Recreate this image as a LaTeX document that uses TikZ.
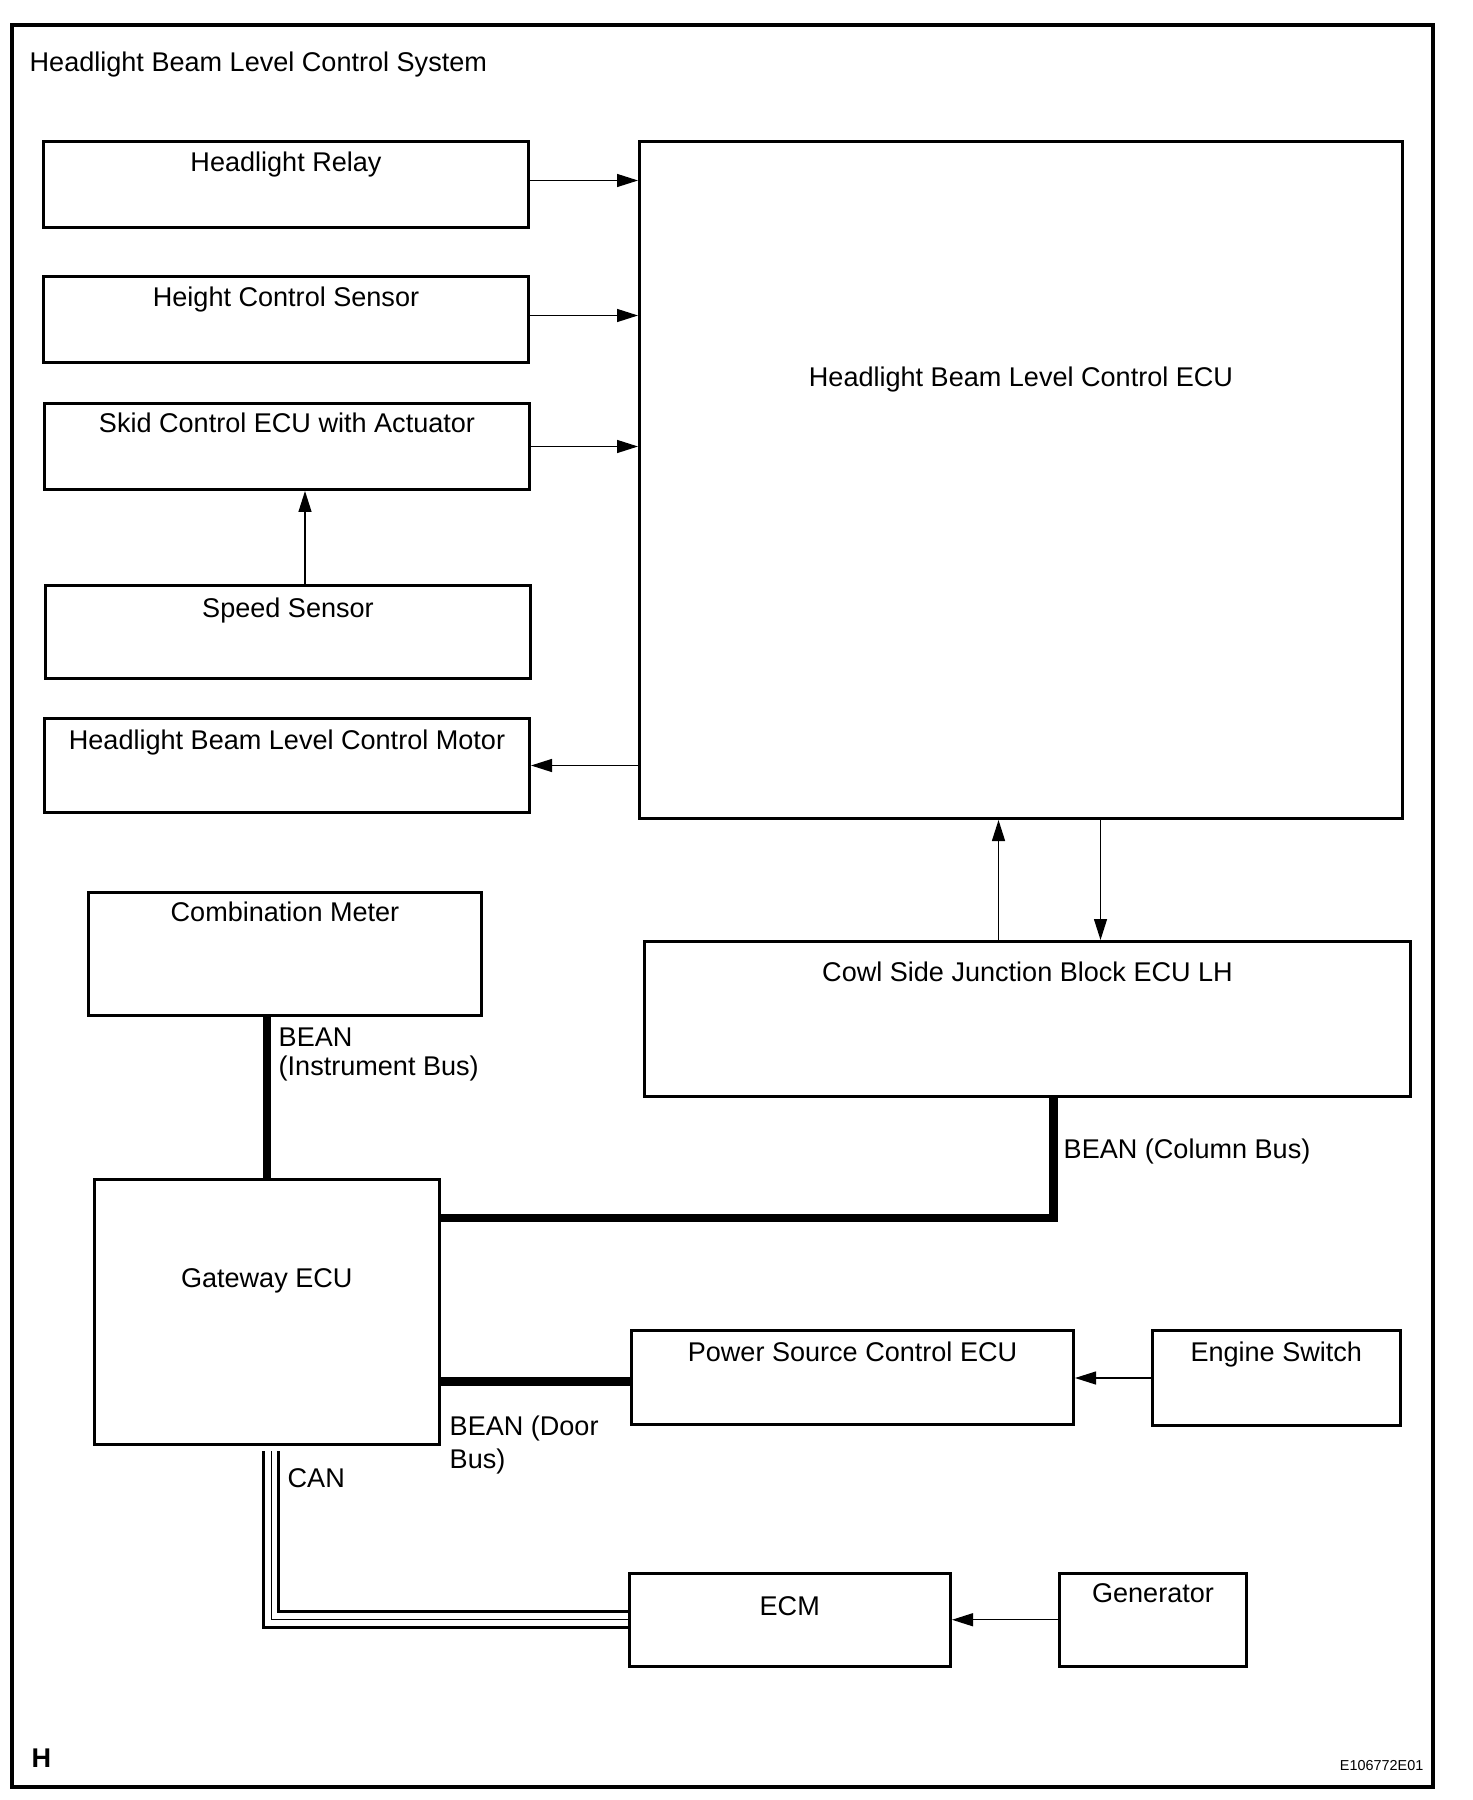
\documentclass[tikz,border=0pt]{standalone}
\usepackage{fontspec}
\setmainfont{Liberation Sans}
\usepackage{tikz}
\usetikzlibrary{arrows.meta}
\newcommand{\fsz}{\fontsize{7.7}{9.35}\selectfont}
\tikzset{%
  box/.style = {draw, line width=0.3mm, inner sep=0pt, anchor=north west,
        font=\fsz},
  sigarrow/.style = {-{Triangle[length=2.1mm,width=1.3mm]}, line width=0.13mm},
  busline/.style = {line width=0.85mm},
  canthick/.style = {line width=0.3mm},
  canthin/.style = {line width=0.13mm},
  lbl/.style = {inner sep=0pt, anchor=base west, align=left, font=\fsz}
}

\begin{document}
\begin{tikzpicture}[x=1mm,y=-1mm]
                \useasboundingbox (0,0) rectangle (147.2,180);
                \draw[line width=0.33mm] (1.2,2.5) rectangle (143.3,178.7);
                \node[lbl] (title) at (2.9,7.2) {Headlight Beam Level Control System};
                % inputs and motor, left column
                \node[box, minimum width=48.5mm, text height=3mm, text depth=5.6mm] (relay) at (4.2,14.0) {Headlight Relay};
                \node[box, minimum width=48.5mm, text height=3mm, text depth=5.6mm] (hcs) at (4.2,27.5) {Height Control Sensor};
                \node[box, minimum width=48.5mm, text height=2.95mm, text depth=5.65mm] (skid) at (4.3,40.2) {Skid Control ECU with Actuator};
                \node[box, minimum width=48.5mm, text height=3.2mm, text depth=6.1mm] (speed) at (4.4,58.4) {Speed Sensor};
                \node[box, minimum width=48.5mm, text height=3.1mm, text depth=6.3mm] (motor) at (4.3,71.7) {Headlight Beam Level Control Motor};
                \node[box, minimum width=76.3mm, text height=24.5mm, text depth=43.2mm] (ecu) at (63.8,14.0) {Headlight Beam Level Control ECU};
                % body network
                \node[box, minimum width=39.3mm, text height=2.9mm, text depth=9.4mm] (cm) at (8.7,89.1) {Combination Meter};
                \node[box, minimum width=76.6mm, text height=4.0mm, text depth=11.5mm] (cowl) at (64.3,94.0) {Cowl Side Junction Block ECU LH};
                \node[box, minimum width=34.45mm, text height=10.8mm, text depth=15.75mm] (gw) at (9.3,117.75) {Gateway ECU};
                \node[box, minimum width=44.2mm, text height=3.1mm, text depth=6.3mm] (power) at (63.0,132.9) {Power Source Control ECU};
                \node[box, minimum width=24.85mm, text height=3.1mm, text depth=6.4mm] (engine) at (115.05,132.9) {Engine Switch};
                \node[box, minimum width=32.15mm, text height=4.2mm, text depth=5.15mm] (ecm) at (62.75,157.15) {ECM};
                \node[box, minimum width=18.7mm, text height=2.9mm, text depth=6.45mm] (gen) at (105.8,157.15) {Generator};
                % signal lines
                \coordinate (rl) at ([yshift=0.4mm]relay.east);
                \draw[sigarrow] (rl) -- (rl -| ecu.west);
                \coordinate (hc) at ([yshift=0.4mm]hcs.east);
                \draw[sigarrow] (hc) -- (hc -| ecu.west);
                \draw[sigarrow] (skid) -- (skid -| ecu.west);
                \coordinate (spd) at ([xshift=1.7mm]speed.north);
                \draw[sigarrow] (spd) -- (spd |- skid.south);
                \draw[sigarrow] (motor -| ecu.west) -- (motor);
                \coordinate (cu) at ([xshift=-2.9mm]cowl.north);
                \draw[sigarrow] (cu) -- (cu |- ecu.south);
                \coordinate (cd) at ([xshift=7.95mm]ecu.south);
                \draw[sigarrow] (cd) -- (cd |- cowl.north);
                \draw[sigarrow] (engine) -- (engine -| power.east);
                \draw[sigarrow] (gen) -- (gen -| ecm.east);
                % BEAN buses
                \draw[busline] (cm.south -| gw.north) -- (gw.north);
                \coordinate (colbus) at ([xshift=2.6mm]cowl.south);
                \coordinate (gwcol) at ([yshift=-4.05mm]gw.north east);
                \draw[busline] (colbus) |- (gwcol);
                \coordinate (doorbus) at ([yshift=-0.4mm]power.west);
                \draw[busline] (doorbus) -- (doorbus -| gw.east);
                % CAN
                \draw[canthick] ([xshift=-0.36mm,yshift=-0.5mm]gw.south) |- ([yshift=-0.77mm]ecm.west);
                \draw[canthin] ([xshift=0.47mm,yshift=-0.5mm]gw.south) |- (ecm.west);
                \draw[canthick] ([xshift=1.2mm,yshift=-0.5mm]gw.south) |- ([yshift=0.84mm]ecm.west);
                % bus names (base = last line)
                \node[lbl] (instbus) at (27.8,107.5) {BEAN\\[-0.46mm](Instrument Bus)};
                \node[lbl] (colbuslbl) at (106.3,115.8) {BEAN (Column Bus)};
                \node[lbl] (doorbuslbl) at (44.9,146.8) {BEAN (Door\\Bus)};
                \node[lbl] (canlbl) at (28.7,148.7) {CAN};
                \node[lbl, font=\fsz\bfseries] (hmark) at (3.1,176.7) {H};
                \node[lbl, anchor=base east, font=\fontsize{4.1}{5}\selectfont] (figno) at (142.4,177.0) {E106772E01};
            \end{tikzpicture}
\end{document}
